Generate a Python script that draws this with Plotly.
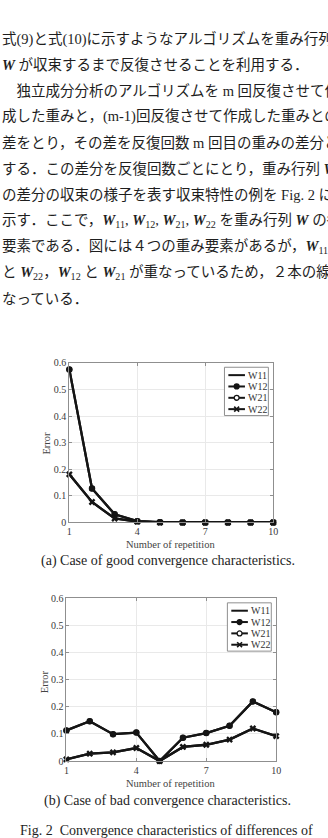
import plotly.graph_objects as go

W, H = 328, 838

# ---------------- data ----------------
paragraph_lines = [
    "式(9)と式(10)に示すようなアルゴリズムを重み行列",
    "<b><i>W</i></b> が収束するまで反復させることを利用する．",
    "　独立成分分析のアルゴリズムを m 回反復させて作",
    "成した重みと，(m-1)回反復させて作成した重みとの",
    "差をとり，その差を反復回数 m 回目の重みの差分と",
    "する．この差分を反復回数ごとにとり，重み行列 <b><i>W</i></b>",
    "の差分の収束の様子を表す収束特性の例を Fig. 2 に",
    "示す．ここで，<b><i>W</i></b><sub>11</sub>, <b><i>W</i></b><sub>12</sub>, <b><i>W</i></b><sub>21</sub>, <b><i>W</i></b><sub>22</sub> を重み行列 <b><i>W</i></b> の各",
    "要素である．図には４つの重み要素があるが，<b><i>W</i></b><sub>11</sub>",
    "と <b><i>W</i></b><sub>22</sub>，<b><i>W</i></b><sub>12</sub> と <b><i>W</i></b><sub>21</sub> が重なっているため，２本の線と",
    "なっている．",
]

iterations = [1, 2, 3, 4, 5, 6, 7, 8, 9, 10]
series_names = ["W11", "W12", "W21", "W22"]

good_W11 = [0.181, 0.077, 0.015, 0.003, 0.0, 0.0, 0.0, 0.0, 0.0, 0.0]
good_W12 = [0.575, 0.128, 0.031, 0.005, 0.001, 0.0, 0.0, 0.0, 0.0, 0.0]
good_W21 = [0.575, 0.128, 0.031, 0.005, 0.001, 0.0, 0.0, 0.0, 0.0, 0.0]
good_W22 = [0.181, 0.077, 0.015, 0.003, 0.0, 0.0, 0.0, 0.0, 0.0, 0.0]

bad_W11 = [0.006, 0.027, 0.032, 0.048, 0.0, 0.052, 0.060, 0.079, 0.120, 0.092]
bad_W12 = [0.113, 0.147, 0.099, 0.105, 0.0, 0.086, 0.103, 0.130, 0.220, 0.180]
bad_W21 = [0.113, 0.147, 0.099, 0.105, 0.0, 0.086, 0.103, 0.130, 0.220, 0.180]
bad_W22 = [0.006, 0.027, 0.032, 0.048, 0.0, 0.052, 0.060, 0.079, 0.120, 0.092]

x_tickvals = [1, 4, 7, 10]
y_tickvals = [0, 0.1, 0.2, 0.3, 0.4, 0.5, 0.6]
y_ticktext = ["0", "0.1", "0.2", "0.3", "0.4", "0.5", "0.6"]

captions = [
    "(a) Case of good convergence characteristics.",
    "(b) Case of bad convergence characteristics.",
    "Fig. 2  Convergence characteristics of differences of",
]
x_title = "Number of repetition"
y_title = "Error"

# ---------------- styles ----------------
SERIF = "Liberation Serif, Times New Roman, serif"
TEXT_FONT = "Liberation Serif, Noto Sans CJK JP, serif"
INK = "#151515"
styles = [
    dict(mode="lines", line=dict(color=INK, width=2.3)),
    dict(mode="lines+markers", line=dict(color=INK, width=2.3),
         marker=dict(symbol="circle", size=6, color=INK)),
    dict(mode="lines+markers", line=dict(color=INK, width=2.3),
         marker=dict(symbol="circle-open", size=5, color=INK, line=dict(width=1.5, color=INK))),
    dict(mode="lines+markers", line=dict(color=INK, width=2.3),
         marker=dict(symbol="x", size=6, color=INK)),
]
marker_kinds = ["none", "dot", "ring", "cross"]


def px_x(p):
    return p / W


def px_y(p):
    return 1 - p / H


fig = go.Figure()

charts = [
    dict(data=[good_W11, good_W12, good_W21, good_W22], xa="x", ya="y",
         box=(68, 277, 362, 524)),
    dict(data=[bad_W11, bad_W12, bad_W21, bad_W22], xa="x2", ya="y2",
         box=(65, 280, 601, 766)),
]

for c in charts:
    for name, vals, st in zip(series_names, c["data"], styles):
        fig.add_trace(go.Scatter(x=iterations, y=vals, name=name, xaxis=c["xa"], yaxis=c["ya"],
                                 showlegend=False, cliponaxis=False, hoverinfo="skip", **st))

AX = "#8f8f8f"
axis_common = dict(showline=True, linecolor=AX, linewidth=1, mirror="ticks",
                   ticks="inside", ticklen=3, tickcolor=AX, showgrid=True,
                   gridcolor="#e9e9e9", gridwidth=1, zeroline=False,
                   tickfont=dict(family=SERIF, size=10, color="#3a3a3a"), fixedrange=True)

layout_axes = {}
for i, c in enumerate(charts):
    x0, x1, y0, y1 = c["box"]
    sx = "" if i == 0 else str(i + 1)
    layout_axes["xaxis" + sx] = dict(domain=[px_x(x0), px_x(x1)], range=[1, 10],
                                     tickvals=x_tickvals, anchor="y" + sx, **axis_common)
    layout_axes["yaxis" + sx] = dict(domain=[px_y(y1), px_y(y0)], range=[0, 0.6],
                                     tickvals=y_tickvals, ticktext=y_ticktext,
                                     anchor="x" + sx, **axis_common)

shapes = []
annotations = []

# legends (manual, compact like MATLAB)
for c in charts:
    x0, x1, y0, y1 = c["box"]
    bx1 = x1 - 5
    bx0 = bx1 - 45
    by0 = y0 + 4.5
    by1 = by0 + 49
    shapes.append(dict(type="rect", xref="paper", yref="paper",
                       x0=px_x(bx0), x1=px_x(bx1), y0=px_y(by1), y1=px_y(by0),
                       line=dict(color=AX, width=1), fillcolor="white", layer="above"))
    for k, (name, kind) in enumerate(zip(series_names, marker_kinds)):
        yy = by0 + 8 + k * 11.5
        lx0, lx1 = bx0 + 4, bx0 + 21
        mx = (lx0 + lx1) / 2
        shapes.append(dict(type="line", xref="paper", yref="paper", layer="above",
                           x0=px_x(lx0), x1=px_x(lx1), y0=px_y(yy), y1=px_y(yy),
                           line=dict(color=INK, width=2)))
        r = 2.5
        if kind in ("dot", "ring"):
            shapes.append(dict(type="circle", xref="paper", yref="paper", layer="above",
                               x0=px_x(mx - r), x1=px_x(mx + r), y0=px_y(yy + r), y1=px_y(yy - r),
                               line=dict(color=INK, width=1.3),
                               fillcolor=INK if kind == "dot" else "white"))
        elif kind == "cross":
            for s in (1, -1):
                shapes.append(dict(type="line", xref="paper", yref="paper", layer="above",
                                   x0=px_x(mx - r), x1=px_x(mx + r),
                                   y0=px_y(yy - s * r), y1=px_y(yy + s * r),
                                   line=dict(color=INK, width=1.6)))
        annotations.append(dict(xref="paper", yref="paper", x=px_x(bx0 + 22), y=px_y(yy),
                                text=name, showarrow=False, xanchor="left", yanchor="middle",
                                font=dict(family=SERIF, size=10, color="#333")))

# axis titles
for ex, ey, nx, ny in [(45, 443, 172, 546), (42, 685, 172, 789)]:
    annotations.append(dict(xref="paper", yref="paper", x=px_x(ex), y=px_y(ey), text=y_title,
                            textangle=-90, showarrow=False, xanchor="center", yanchor="middle",
                            font=dict(family=SERIF, size=10.5, color="#444")))
    annotations.append(dict(xref="paper", yref="paper", x=px_x(nx), y=px_y(ny), text=x_title,
                            showarrow=False, xanchor="center", yanchor="middle",
                            font=dict(family=SERIF, size=10.5, color="#444")))

# captions
for text, cx, cy in [(captions[0], 37, 563), (captions[1], 40, 807), (captions[2], 15, 836)]:
    annotations.append(dict(xref="paper", yref="paper", x=px_x(cx), y=px_y(cy), text=text,
                            showarrow=False, xanchor="left", yanchor="middle",
                            font=dict(family=SERIF, size=14, color="#1e1e1e")))

# paragraph
for i, line in enumerate(paragraph_lines):
    yy = 33 + i * 26.4
    annotations.append(dict(xref="paper", yref="paper", x=px_x(-3), y=px_y(yy), text=line,
                            showarrow=False, xanchor="left", yanchor="middle",
                            font=dict(family=TEXT_FONT, size=14.5, color="#1e1e1e")))

fig.update_layout(width=W, height=H, margin=dict(l=0, r=0, t=0, b=0),
                  paper_bgcolor="white", plot_bgcolor="white", showlegend=False,
                  shapes=shapes, annotations=annotations, **layout_axes)

fig.write_html("out.html", config={"displayModeBar": False})
